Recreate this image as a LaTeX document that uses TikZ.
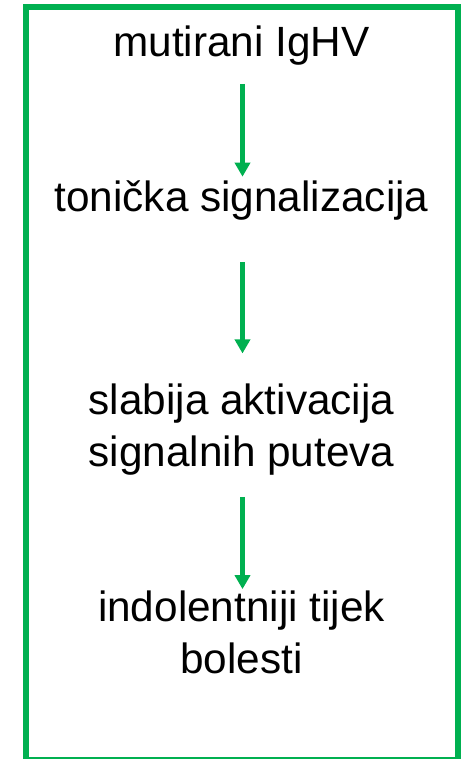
\documentclass[tikz,border=0pt]{standalone}
\usepackage{fontspec}
\setmainfont{Liberation Sans}
\usetikzlibrary{arrows.meta}
\definecolor{pptgreen}{HTML}{00B050}
\begin{document}
\begin{tikzpicture}[x=1pt,y=-1pt,
  lbl/.style={font=\fontsize{42.3}{52.5}\selectfont, inner sep=0pt, align=center, anchor=base},
  arr/.style={draw=pptgreen, line width=5pt, -{Triangle[width=15pt,length=14pt]}},
  frame/.style={draw=pptgreen, line width=5.5pt}]
\useasboundingbox (0,0) rectangle (470,759);
\draw[frame] (26,7) rectangle (458,759.4);
\node[lbl] (a) at (241.5,57) {mutirani IgHV};
\node[lbl] (b) at (241.5,211.7) {tonička signalizacija};
\node[lbl] (c) at (241.5,466.5) {slabija aktivacija\\signalnih puteva};
\node[lbl] (d) at (241.5,673.5) {indolentniji tijek\\bolesti};
\draw[arr] ([xshift=1pt,yshift=-18pt]a.south) -- ([xshift=1pt,yshift=4pt]b.north);
\draw[arr] ([xshift=1pt,yshift=-41.5pt]b.south) -- ([xshift=1pt,yshift=29.7pt]c.north);
\draw[arr] ([xshift=1pt,yshift=-21.5pt]c.south) -- ([xshift=1pt,yshift=1pt]d.north);
\end{tikzpicture}
\end{document}
